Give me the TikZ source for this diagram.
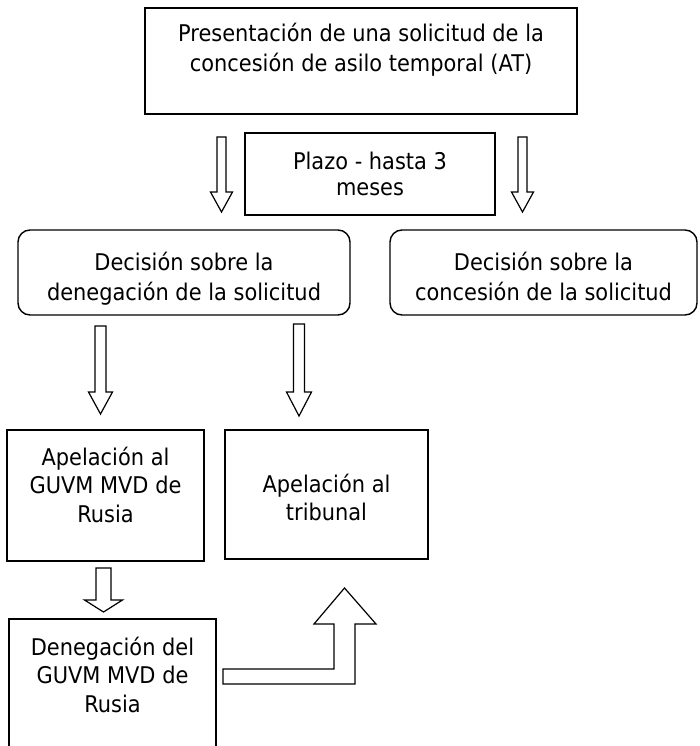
\documentclass[tikz,border=0pt]{standalone}
\usepackage{fontspec}
\setmainfont{DejaVu Sans}[FakeStretch=0.91]
\newcommand\blockdown[6]{%
  \draw[blk] (#1-#5,#2) -- (#1+#5,#2) -- (#1+#5,#3) -- (#1+#6,#3) -- (#1,#4)
    -- (#1-#6,#3) -- (#1-#5,#3) -- cycle;}
\begin{document}
\begin{tikzpicture}[x=1pt,y=-1pt,
  box/.style={draw, line width=1.4pt, inner sep=0pt},
  rbox/.style={box, rounded corners=12pt},
  txt/.style={align=center, inner sep=0pt, font=\fontsize{23}{30}\selectfont},
  blk/.style={draw, line width=1.2pt, fill=white, line join=miter}]
\useasboundingbox (0,0) rectangle (699,746);
\clip (0,0) rectangle (699,746);
% boxes
\node[box, minimum width=432pt, minimum height=106pt] (top) at (361,61) {};
\node[txt] (toptxt) at (361,50.5) {\strut Presentación de una solicitud de la\\concesión de asilo temporal (AT)\strut};
\node[box, minimum width=250pt, minimum height=82pt] (plazo) at (370,174) {};
\node[txt, font=\fontsize{23}{26}\selectfont] (plazotxt) at (370,177.5) {\strut Plazo - hasta 3\\meses\strut};
\node[rbox, minimum width=332pt, minimum height=85pt] (den) at (184,272.5) {};
\node[txt] (dentxt) at (184,279) {\strut Decisión sobre la\\denegación de la solicitud\strut};
\node[rbox, minimum width=307pt, minimum height=85pt] (con) at (543.5,272.5) {};
\node[txt] (context) at (543.5,279) {\strut Decisión sobre la\\concesión de la solicitud\strut};
\node[box, minimum width=197pt, minimum height=131pt] (ap1) at (105.5,495.5) {};
\node[txt, font=\fontsize{23}{28.5}\selectfont] (ap1txt) at (105.5,488) {\strut Apelación al\\GUVM MVD de\\Rusia\strut};
\node[box, minimum width=203pt, minimum height=129pt] (ap2) at (326.5,494.5) {};
\node[txt, font=\fontsize{23}{27.5}\selectfont] (ap2txt) at (326.5,501) {\strut Apelación al\\tribunal\strut};
\node[box, minimum width=207pt, minimum height=180pt] (dg) at (112.5,709) {};
\node[txt, font=\fontsize{23}{28.5}\selectfont] (dgtxt) at (112.5,678) {\strut Denegación del\\GUVM MVD de\\Rusia\strut};
% block arrows
\blockdown{221.5}{137}{192}{212}{4.5}{11}
\blockdown{522.5}{137}{192}{212}{4.5}{11}
\blockdown{100.5}{326}{392}{414}{5.5}{12}
\blockdown{299}{324}{392}{416}{5.5}{12.5}
\blockdown{103.5}{568}{600}{612}{7.5}{19}
\draw[blk] (223,669) -- (334,669) -- (334,624) -- (314,624) -- (344.5,588)
  -- (376,624) -- (355,624) -- (355,684) -- (223,684) -- cycle;
\end{tikzpicture}
\end{document}
